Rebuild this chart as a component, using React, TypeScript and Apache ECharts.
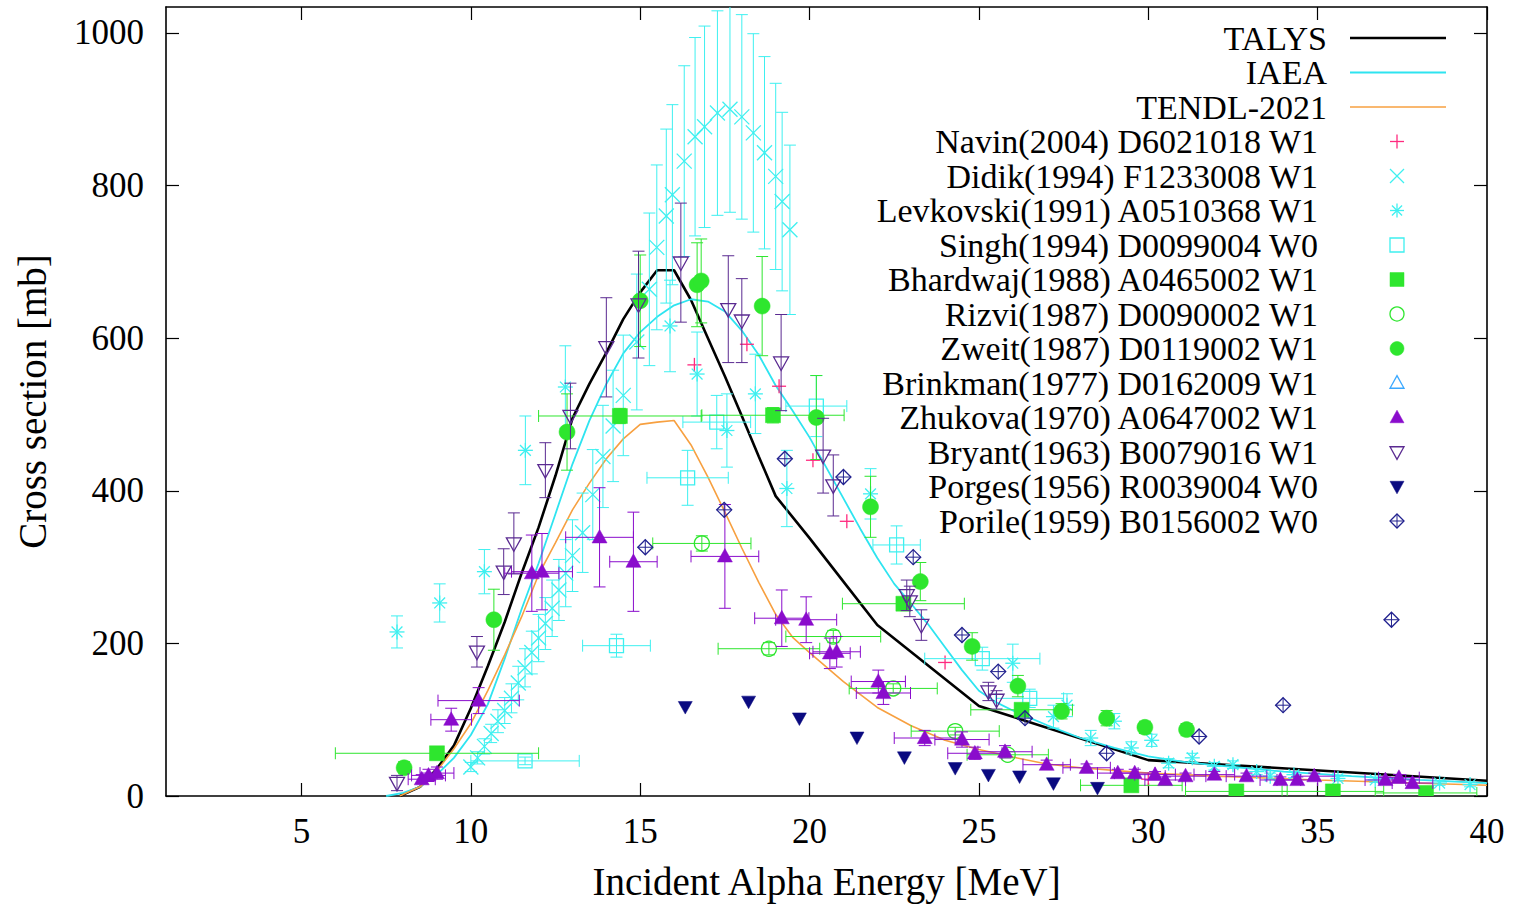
import React, { useEffect, useRef } from "react";
import * as echarts from "echarts";

const FONT = '"Liberation Serif", "Times New Roman", serif';

const xTicks = [5, 10, 15, 20, 25, 30, 35, 40];
const yTicks = [0, 200, 400, 600, 800, 1000];

// Evaluated curves [E (MeV), sigma (mb)]
const talys = [
  [7.9, 0], [8.5, 12], [9, 36], [9.5, 66], [10, 115], [10.5, 170], [11, 228], [11.5, 292],
  [12, 352], [12.5, 420], [13, 495], [13.5, 540], [14, 581], [14.5, 625], [15, 660],
  [15.5, 689], [16, 689], [16.5, 650], [17, 600], [17.5, 550], [18, 498], [18.5, 445],
  [19, 393], [20, 338], [21, 281], [22, 224], [25, 118], [30, 47], [40, 20],
];
const iaea = [
  [7.5, 0], [8, 4], [8.5, 12], [9, 28], [9.5, 50], [10, 80], [10.5, 120], [11, 180],
  [11.5, 245], [12, 305], [12.5, 370], [13, 435], [13.5, 492], [14, 540], [14.5, 580],
  [15, 608], [15.5, 628], [16, 643], [16.5, 651], [17, 648], [17.5, 635], [18, 610],
  [18.5, 578], [19, 538], [19.5, 505], [20, 470], [20.5, 430], [21, 390], [21.5, 350],
  [22, 312], [22.5, 278], [23, 252], [23.5, 225], [24, 195], [24.5, 165], [25, 138],
  [25.5, 123], [26, 112], [27, 93], [28, 76], [29, 63], [30, 52], [31, 45], [32, 40],
  [34, 32], [36, 26], [38, 21], [40, 17],
];
const tendl = [
  [7.9, 0], [8.5, 12], [9, 33], [9.5, 62], [10, 95], [10.5, 138], [11, 185], [11.5, 235],
  [12, 290], [12.5, 332], [13, 375], [13.5, 410], [14, 442], [14.5, 468], [15, 487],
  [15.5, 490], [16, 492], [16.5, 460], [17, 418], [17.5, 372], [18, 325], [18.5, 280],
  [19, 238], [19.5, 208], [20, 188], [21, 150], [22, 116], [23, 92], [24, 73], [25, 61],
  [26, 51], [27, 42], [28, 37], [30, 30], [32, 26], [35, 21], [40, 14],
];

// Experimental data [E, sigma, dE, dSigma]
const navin = [
  [16.6, 565, 0, 0], [18.15, 592, 0, 0], [19.1, 537, 0, 0], [20.1, 440, 0, 0],
  [21.1, 360, 0, 0], [24.0, 175, 0, 0], [30.0, 22, 0, 0],
];
const didik = [
  [10.0, 38, 0, 6], [10.2, 50, 0, 8], [10.4, 65, 0, 10], [10.6, 82, 0, 12], [10.8, 98, 0, 15],
  [11.0, 112, 0, 17], [11.2, 128, 0, 19], [11.4, 148, 0, 22], [11.6, 168, 0, 25],
  [11.8, 188, 0, 28], [12.0, 207, 0, 31], [12.2, 226, 0, 34], [12.4, 246, 0, 37],
  [12.6, 270, 0, 40], [12.8, 292, 0, 44], [13.0, 315, 0, 47], [13.3, 345, 0, 52],
  [13.6, 395, 0, 59], [13.9, 445, 0, 67], [14.2, 485, 0, 73], [14.5, 525, 0, 79],
  [14.9, 595, 0, 89], [15.27, 664, 0, 100], [15.49, 719, 0, 108], [15.77, 760, 0, 114],
  [15.95, 788, 0, 118], [16.3, 832, 0, 125], [16.62, 864, 0, 130], [16.9, 877, 0, 132],
  [17.28, 895, 0, 134], [17.65, 900, 0, 135], [18.0, 890, 0, 134], [18.34, 869, 0, 130],
  [18.67, 843, 0, 126], [19.0, 812, 0, 122], [19.19, 779, 0, 117], [19.42, 742, 0, 111],
];
const levkovski = [
  [7.82, 215, 0, 21], [9.08, 253, 0, 25], [10.4, 294, 0, 29], [11.61, 453, 0, 45],
  [12.79, 536, 0, 54], [15.88, 616, 0, 60], [16.68, 553, 0, 55], [17.56, 479, 0, 48],
  [18.4, 527, 0, 52], [19.33, 403, 0, 50], [21.8, 396, 0, 33], [26.0, 174, 0, 25],
  [27.2, 104, 0, 15], [27.6, 119, 0, 15], [28.3, 76, 0, 10], [29.0, 98, 0, 10],
  [29.5, 63, 0, 8], [30.1, 73, 0, 8], [30.6, 43, 0, 6], [31.3, 50, 0, 6], [31.95, 39, 0, 5],
  [32.5, 41, 0, 5], [33.2, 32, 0, 4], [33.6, 26, 0, 4], [34.3, 28, 0, 4], [35.6, 23, 0, 3],
  [36.7, 21, 0, 3], [38.6, 17, 0, 3], [39.5, 15, 0, 3],
];
const singh = [
  [11.6, 46, 1.6, 5], [14.3, 197, 1.0, 15], [16.4, 417, 1.2, 36], [17.26, 490, 1.0, 35],
  [20.2, 511, 0.9, 40], [22.57, 329, 0.7, 25], [25.1, 180, 1.7, 15], [26.5, 128, 1.0, 12],
];
const bhardwaj = [
  [9.0, 56, 3.0, 5], [14.4, 498, 2.4, 10], [18.92, 499, 2.1, 10], [22.77, 252, 1.8, 8],
  [26.26, 113, 1.5, 6], [29.5, 14, 1.5, 3], [32.6, 6, 1.5, 2], [35.45, 6, 1.5, 2],
  [38.2, 4, 1.5, 2],
];
const rizvi = [
  [16.82, 331, 1.45, 10], [18.8, 193, 1.5, 8], [20.7, 209, 1.4, 8], [22.47, 141, 1.3, 6],
  [24.3, 85, 1.3, 5], [25.85, 54, 1.2, 4],
];
const zweit = [
  [8.03, 37, 0, 8], [10.68, 231, 0, 40], [12.84, 477, 0, 50], [15.0, 649, 0, 60],
  [16.68, 670, 0, 55], [16.8, 675, 0, 55], [18.6, 642, 0, 65], [20.2, 496, 0, 55],
  [21.8, 379, 0, 40], [23.27, 281, 0, 25], [24.8, 196, 0, 18], [26.15, 144, 0, 14],
  [27.44, 111, 0, 10], [28.77, 102, 0, 10], [29.9, 90, 0, 8], [31.13, 87, 0, 8],
];
const brinkman: number[][] = [];
const zhukova = [
  [8.55, 22, 0.4, 6], [8.75, 27, 0.5, 8], [9.0, 30, 0.5, 8], [9.42, 100, 0.6, 15],
  [10.23, 125, 1.2, 17], [11.8, 292, 0.8, 50], [12.1, 294, 0.9, 50], [13.8, 339, 1.0, 65],
  [14.8, 307, 0.7, 65], [17.5, 314, 1.0, 68], [19.18, 233, 0.8, 37], [19.9, 231, 0.9, 30],
  [20.6, 187, 0.6, 20], [20.8, 189, 0.7, 20], [22.03, 150, 0.8, 15], [22.18, 135, 0.8, 15],
  [23.4, 76, 0.9, 10], [24.5, 74, 0.8, 10], [24.88, 56, 0.8, 8], [25.77, 58, 0.8, 8],
  [27.0, 41, 0.7, 6], [28.18, 37, 0.7, 5], [29.1, 30, 0.6, 5], [29.6, 30, 0.6, 5],
  [30.2, 28, 0.6, 4], [30.5, 21, 0.6, 4], [31.1, 26, 0.6, 4], [31.95, 28, 0.6, 4],
  [32.9, 26, 0.6, 4], [33.9, 21, 0.6, 4], [34.4, 21, 0.6, 4], [34.9, 26, 0.6, 4],
  [37.0, 21, 0.6, 4], [37.4, 24, 0.6, 4], [37.8, 17, 0.6, 4],
];
const bryant = [
  [7.82, 17, 0, 10], [10.18, 189, 0, 20], [10.97, 294, 0, 30], [11.27, 331, 0, 40],
  [12.2, 427, 0, 36], [12.94, 498, 0, 43], [14.0, 588, 0, 65], [14.95, 644, 0, 70],
  [16.2, 699, 0, 78], [17.6, 638, 0, 70], [18.0, 623, 0, 55], [19.16, 568, 0, 63],
  [20.4, 446, 0, 49], [20.7, 407, 0, 40], [22.87, 263, 0, 20], [22.96, 255, 0, 20],
  [23.3, 224, 0, 20], [25.28, 137, 0, 12], [25.52, 126, 0, 12],
];
const porges = [
  [16.33, 117, 0, 0], [18.2, 124, 0, 0], [19.7, 102, 0, 0], [21.4, 77, 0, 0], [22.8, 51, 0, 0],
  [24.3, 37, 0, 0], [25.28, 28, 0, 0], [26.2, 26, 0, 0], [27.2, 17, 0, 0], [28.5, 11, 0, 0],
];
const porile = [
  [15.15, 326, 0, 0], [17.48, 375, 0, 0], [19.27, 442, 0, 0], [21.0, 418, 0, 0],
  [23.06, 313, 0, 0], [24.5, 211, 0, 0], [25.57, 163, 0, 0], [26.36, 102, 0, 0],
  [28.77, 56, 0, 0], [31.5, 78, 0, 0], [33.98, 119, 0, 0], [37.18, 231, 0, 0],
];

const theory = [
  { name: "TALYS", data: talys, color: "#000000", width: 2.6 },
  { name: "IAEA", data: iaea, color: "#2ee4f0", width: 1.8 },
  { name: "TENDL-2021", data: tendl, color: "#f7a040", width: 1.6 },
];

const experiments = [
  { name: "Navin(2004) D6021018 W1", data: navin, color: "#ff2a7f", kind: "plus", size: 14 },
  { name: "Didik(1994) F1233008 W1", data: didik, color: "#3ef0f0", kind: "cross", size: 15 },
  { name: "Levkovski(1991) A0510368 W1", data: levkovski, color: "#3ef0f0", kind: "star", size: 15 },
  { name: "Singh(1994) D0099004 W0", data: singh, color: "#3ef0f0", kind: "osq", size: 14 },
  { name: "Bhardwaj(1988) A0465002 W1", data: bhardwaj, color: "#2ee62e", kind: "fsq", size: 15 },
  { name: "Rizvi(1987) D0090002 W1", data: rizvi, color: "#2ee62e", kind: "ocirc", size: 15 },
  { name: "Zweit(1987) D0119002 W1", data: zweit, color: "#2ee62e", kind: "fcirc", size: 16 },
  { name: "Brinkman(1977) D0162009 W1", data: brinkman, color: "#3aa8ff", kind: "otri", size: 15 },
  { name: "Zhukova(1970) A0647002 W1", data: zhukova, color: "#8a0ccc", kind: "ftri", size: 15 },
  { name: "Bryant(1963) B0079016 W1", data: bryant, color: "#5a2a91", kind: "oinv", size: 15 },
  { name: "Porges(1956) R0039004 W0", data: porges, color: "#0a0a80", kind: "finv", size: 14 },
  { name: "Porile(1959) B0156002 W0", data: porile, color: "#22228f", kind: "dplus", size: 15 },
];

function ln(x1: number, y1: number, x2: number, y2: number, color: string, w: number) {
  return { type: "line", shape: { x1, y1, x2, y2 }, style: { stroke: color, lineWidth: w } };
}

function marker(kind: string, cx: number, cy: number, s: number, color: string): any[] {
  const h = s / 2;
  const lw = 1.3;
  const open = { stroke: color, lineWidth: lw, fill: "none" };
  const full = { fill: color, stroke: color, lineWidth: 0.5 };
  const d = h * 0.72;
  switch (kind) {
    case "plus":
      return [ln(cx - h, cy, cx + h, cy, color, lw), ln(cx, cy - h, cx, cy + h, color, lw)];
    case "cross":
      return [ln(cx - h, cy - h, cx + h, cy + h, color, lw), ln(cx - h, cy + h, cx + h, cy - h, color, lw)];
    case "star":
      return [
        ln(cx - h, cy, cx + h, cy, color, lw), ln(cx, cy - h, cx, cy + h, color, lw),
        ln(cx - d, cy - d, cx + d, cy + d, color, lw), ln(cx - d, cy + d, cx + d, cy - d, color, lw),
      ];
    case "osq":
      return [{ type: "rect", shape: { x: cx - h, y: cy - h, width: s, height: s }, style: open }];
    case "fsq":
      return [{ type: "rect", shape: { x: cx - h, y: cy - h, width: s, height: s }, style: full }];
    case "ocirc":
      return [{ type: "circle", shape: { cx, cy, r: h }, style: open }];
    case "fcirc":
      return [{ type: "circle", shape: { cx, cy, r: h }, style: full }];
    case "otri":
    case "ftri":
      return [{
        type: "polygon",
        shape: { points: [[cx, cy - h * 1.05], [cx + h, cy + h * 0.75], [cx - h, cy + h * 0.75]] },
        style: kind === "otri" ? open : full,
      }];
    case "oinv":
    case "finv":
      return [{
        type: "polygon",
        shape: { points: [[cx, cy + h * 1.05], [cx + h, cy - h * 0.75], [cx - h, cy - h * 0.75]] },
        style: kind === "oinv" ? open : full,
      }];
    case "dplus":
      return [
        { type: "polygon", shape: { points: [[cx, cy - h], [cx + h, cy], [cx, cy + h], [cx - h, cy]] }, style: open },
        ln(cx - h, cy, cx + h, cy, color, 1), ln(cx, cy - h, cx, cy + h, color, 1),
      ];
  }
  return [];
}

function makeRender(kind: string, color: string, size: number) {
  return (params: any, api: any) => {
    const x = api.value(0);
    const y = api.value(1);
    const dx = api.value(2);
    const dy = api.value(3);
    const c = api.coord([x, y]);
    const ch: any[] = [];
    const cap = 6;
    if (dy > 0) {
      const t = api.coord([x, y + dy]);
      const b = api.coord([x, y - dy]);
      ch.push(ln(c[0], t[1], c[0], b[1], color, 1));
      ch.push(ln(c[0] - cap, t[1], c[0] + cap, t[1], color, 1));
      ch.push(ln(c[0] - cap, b[1], c[0] + cap, b[1], color, 1));
    }
    if (dx > 0) {
      const l = api.coord([x - dx, y]);
      const r = api.coord([x + dx, y]);
      ch.push(ln(l[0], c[1], r[0], c[1], color, 1));
      ch.push(ln(l[0], c[1] - cap, l[0], c[1] + cap, color, 1));
      ch.push(ln(r[0], c[1] - cap, r[0], c[1] + cap, color, 1));
    }
    ch.push(...marker(kind, c[0], c[1], size, color));
    return { type: "group", children: ch };
  };
}

function buildLegend(): any[] {
  const els: any[] = [];
  const rowY0 = 38;
  const step = 34.5;
  let row = 0;
  theory.forEach((t) => {
    const y = rowY0 + step * row;
    els.push({
      type: "text", x: 1327, y,
      style: { text: t.name, fontFamily: FONT, fontSize: 34, fill: "#000", align: "right", verticalAlign: "middle" },
    });
    els.push(ln(1350, y, 1446, y, t.color, t.width));
    row++;
  });
  experiments.forEach((e) => {
    const y = rowY0 + step * row;
    els.push({
      type: "text", x: 1318, y,
      style: { text: e.name, fontFamily: FONT, fontSize: 34, fill: "#000", align: "right", verticalAlign: "middle" },
    });
    marker(e.kind, 1397, y, 14, e.color).forEach((m) => els.push(m));
    row++;
  });
  return els;
}

export default function App() {
  const ref = useRef<HTMLDivElement>(null);
  useEffect(() => {
    if (!ref.current) return;
    const chart = echarts.init(ref.current, undefined, { renderer: "svg" });
    const axisLine = { show: true, onZero: false, lineStyle: { color: "#000", width: 1.6 } };
    const labelStyle = { fontFamily: FONT, fontSize: 35, color: "#000", formatter: (v: number) => String(v) };
    const option: any = {
      animation: false,
      backgroundColor: "#fff",
      grid: { left: 166, right: 26, top: 7, bottom: 108, show: false },
      xAxis: [
        {
          type: "value", min: 1, max: 40, position: "bottom",
          axisLine,
          axisTick: { show: true, inside: true, length: 13, customValues: xTicks, lineStyle: { color: "#000", width: 1.2 } },
          axisLabel: { ...labelStyle, customValues: xTicks, margin: 18 },
          splitLine: { show: false },
          name: "Incident Alpha Energy [MeV]", nameLocation: "middle", nameGap: 66,
          nameTextStyle: { fontFamily: FONT, fontSize: 39, color: "#000" },
        },
        {
          type: "value", min: 1, max: 40, position: "top",
          axisLine,
          axisTick: { show: true, inside: true, length: 13, customValues: xTicks, lineStyle: { color: "#000", width: 1.2 } },
          axisLabel: { show: false },
          splitLine: { show: false },
        },
      ],
      yAxis: [
        {
          type: "value", min: 0, max: 1034, position: "left",
          axisLine,
          axisTick: { show: true, inside: true, length: 13, customValues: yTicks, lineStyle: { color: "#000", width: 1.2 } },
          axisLabel: { ...labelStyle, customValues: yTicks, margin: 22 },
          splitLine: { show: false },
          name: "Cross section [mb]", nameLocation: "middle", nameGap: 114,
          nameTextStyle: { fontFamily: FONT, fontSize: 39, color: "#000" },
        },
        {
          type: "value", min: 0, max: 1034, position: "right",
          axisLine,
          axisTick: { show: true, inside: true, length: 13, customValues: yTicks, lineStyle: { color: "#000", width: 1.2 } },
          axisLabel: { show: false },
          splitLine: { show: false },
        },
      ],
      series: [
        ...theory.map((t) => ({
          type: "line", name: t.name, data: t.data, symbol: "none", showSymbol: false,
          lineStyle: { color: t.color, width: t.width }, z: 2, silent: true,
        })),
        ...experiments.map((e, i) => ({
          type: "custom", name: e.name, data: e.data, clip: true,
          dimensions: ["E", "sigma", "dE", "dSigma"],
          encode: { x: 0, y: 1 },
          renderItem: makeRender(e.kind, e.color, e.size), z: 3 + i * 0.01, silent: true,
        })),
      ],
      graphic: buildLegend(),
    };
    chart.setOption(option);
    return () => chart.dispose();
  }, []);
  return <div ref={ref} style={{ position: "absolute", left: 0, top: 0, width: 1513, height: 906 }} />;
}
